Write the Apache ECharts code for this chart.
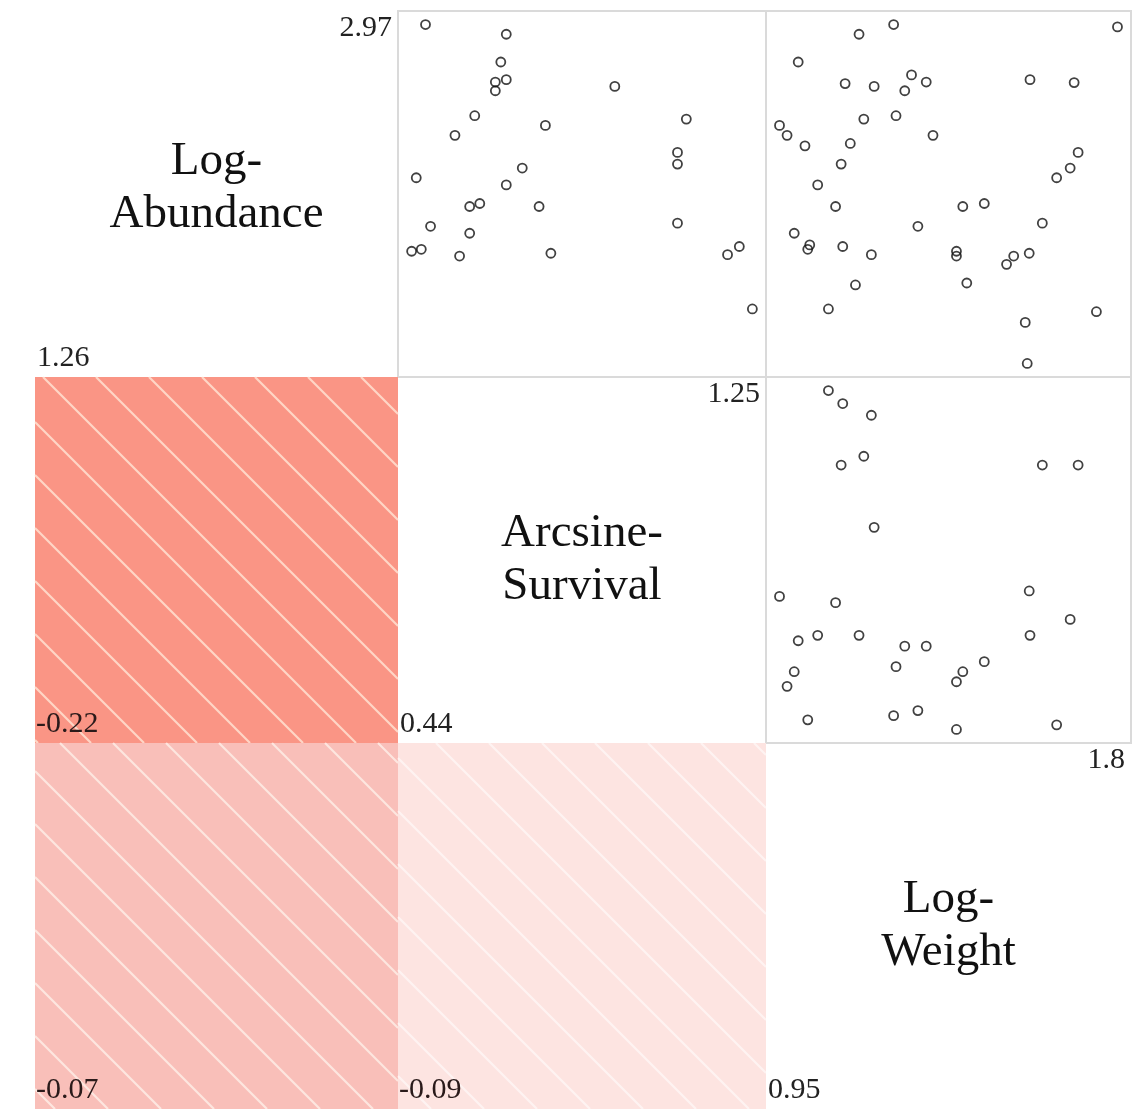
<!DOCTYPE html>
<html>
<head>
<meta charset="utf-8">
<script src="https://cdn.jsdelivr.net/npm/echarts@6/dist/echarts.min.js"></script>
<style>
html,body{margin:0;padding:0;background:#ffffff;}
#chart{width:1141px;height:1109px;}
</style>
</head>
<body>
<div id="chart"></div>
<script>
// ---------------- DATA ----------------
const varNames = ['Log-Abundance', 'Arcsine-Survival', 'Log-Weight'];

// one entry per observation (null = missing)
const logAbundance = [
  1.535, 1.850, 1.809, 2.493, 2.266, 1.968, 2.325, 2.658, 2.461, 2.052,
  1.816, 2.246, 2.781, 2.161, 2.921, 2.692, 2.636, 2.680, 2.510, 2.067,
  1.917, 2.052, 1.802, 2.411, 1.836, 2.970, 1.952, 1.826, 2.197,
  2.958, 2.672, 2.716, 2.677, 2.358, 2.370, 2.411, 1.858, 1.802, 1.760,
  1.656, 1.666, 1.521, 1.467, 1.260
];
const arcsineSurvival = [
  1.250, 1.219, 1.191, 1.093, 1.072, 1.072, 1.072, 0.923, 0.758, 0.743,
  0.771, 0.703, 0.652, 0.665, 0.665, 0.665, 0.639, 0.639, 0.590, 0.602,
  0.578, 0.578, 0.554, 0.543, 0.463, 0.473, 0.485, 0.440, 0.451,
  null, null, null, null, null, null, null, null, null, null,
  null, null, null, null, null
];
const logWeight = [
  1.073, 1.109, 1.181, 1.162, 1.105, 1.611, 1.701, 1.188, 0.950, 1.091,
  1.578, 1.681, 0.997, 1.046, 1.150, 1.580, 1.265, 1.319, 1.243, 1.465,
  0.987, 1.411, 1.395, 0.969, 1.021, 1.237, 1.298, 1.395, 1.647,
  1.800, 1.115, 1.282, 1.691, 1.014, 1.128, 1.336, 1.026, 1.539, 1.521,
  1.141, 1.421, 1.747, 1.568, 1.573
];

// lower-panel correlations
const corrRows = [1, 2, 2];
const corrCols = [0, 0, 1];
const corrValues = [-0.22, -0.07, -0.09];

// ---------------- STYLE / LAYOUT ----------------
const shadeColors = ['#fa9585', '#f9bfb9', '#fde4e1'];
const hatchColors = ['rgba(255,236,220,0.75)', 'rgba(255,246,240,0.7)', 'rgba(255,255,255,0.55)'];
const hatchPhase = [8, 25, 38];
const hatchSpacing = 53;
const xs = [35, 398, 766, 1131];
const ys = [11, 377, 743, 1109];
const nameOffsetY = [-6, 0, 0];
const serif = '"Liberation Serif", "Times New Roman", serif';

const vars = [logAbundance, arcsineSurvival, logWeight];
const fmt = v => String(Math.round(v * 100) / 100);
const vmin = vars.map(a => Math.min(...a.filter(v => v !== null)));
const vmax = vars.map(a => Math.max(...a.filter(v => v !== null)));

const grids = [], xAxes = [], yAxes = [], series = [];
function addGrid(r, c, border) {
  grids.push({
    left: xs[c], top: ys[r], width: xs[c + 1] - xs[c], height: ys[r + 1] - ys[r],
    show: border, borderColor: '#dadada', borderWidth: 2, backgroundColor: 'transparent'
  });
  return grids.length - 1;
}
const hiddenAxis = { show: false, splitLine: { show: false }, axisLine: { show: false }, axisTick: { show: false }, axisLabel: { show: false } };

// upper: scatter plots
for (let r = 0; r < 3; r++) {
  for (let c = r + 1; c < 3; c++) {
    const gi = addGrid(r, c, true);
    const xr = vmax[c] - vmin[c], yr = vmax[r] - vmin[r];
    xAxes.push(Object.assign({ type: 'value', gridIndex: gi, min: vmin[c] - 0.04 * xr, max: vmax[c] + 0.04 * xr }, hiddenAxis));
    yAxes.push(Object.assign({ type: 'value', gridIndex: gi, min: vmin[r] - 0.04 * yr, max: vmax[r] + 0.04 * yr }, hiddenAxis));
    const pts = [];
    for (let i = 0; i < vars[c].length; i++) {
      if (vars[c][i] !== null && vars[r][i] !== null) pts.push([vars[c][i], vars[r][i]]);
    }
    series.push({
      type: 'scatter', xAxisIndex: gi, yAxisIndex: gi, data: pts,
      symbol: 'circle', symbolSize: 9, silent: true,
      itemStyle: { color: 'rgba(255,255,255,0)', borderColor: '#111111', borderWidth: 1.8 }
    });
  }
}

// lower: shaded correlation panels
corrValues.forEach((rv, k) => {
  const gi = addGrid(corrRows[k], corrCols[k], false);
  xAxes.push(Object.assign({ type: 'value', gridIndex: gi, min: 0, max: 1 }, hiddenAxis));
  yAxes.push(Object.assign({ type: 'value', gridIndex: gi, min: 0, max: 1 }, hiddenAxis));
  series.push({
    type: 'custom', xAxisIndex: gi, yAxisIndex: gi, silent: true,
    data: [[0, 0, rv]],
    renderItem: (params, api) => {
      const p0 = api.coord([0, 1]);
      const p1 = api.coord([1, 0]);
      const x0 = p0[0], y0 = p0[1], w = p1[0] - p0[0], h = p1[1] - p0[1];
      const r = api.value(2);
      const children = [{
        type: 'rect', shape: { x: x0, y: y0, width: w, height: h },
        style: { fill: shadeColors[k] }
      }];
      const ph = hatchPhase[k];
      for (let cc = ph - hatchSpacing * 20; cc < w + h; cc += hatchSpacing) {
        let a, b;
        if (r < 0) {
          if (cc <= -h || cc >= w) continue;
          const su = Math.max(0, cc), sv = su - cc;
          const eu = Math.min(w, h + cc), ev = eu - cc;
          a = [x0 + su, y0 + sv]; b = [x0 + eu, y0 + ev];
        } else {
          if (cc <= 0 || cc >= w + h) continue;
          const su = Math.max(0, cc - h), sv = cc - su;
          const eu = Math.min(w, cc), ev = cc - eu;
          a = [x0 + su, y0 + sv]; b = [x0 + eu, y0 + ev];
        }
        children.push({
          type: 'line', shape: { x1: a[0], y1: a[1], x2: b[0], y2: b[1] },
          style: { stroke: hatchColors[k], lineWidth: 2.2 }
        });
      }
      children.push({
        type: 'text',
        style: {
          text: r.toFixed(2), x: x0 + 1, y: y0 + h - 4,
          align: 'left', verticalAlign: 'bottom',
          font: '30px ' + serif, fill: '#2a1a1a'
        }
      });
      return { type: 'group', children: children };
    }
  });
});

// diagonal: names + min / max
const graphics = [];
for (let i = 0; i < 3; i++) {
  const cx = (xs[i] + xs[i + 1]) / 2, cy = (ys[i] + ys[i + 1]) / 2 + nameOffsetY[i];
  graphics.push({
    type: 'text', x: cx, y: cy, silent: true,
    style: {
      text: varNames[i].replace('-', '-\n'), align: 'center', verticalAlign: 'middle',
      font: '47px ' + serif, lineHeight: 53, fill: '#111111'
    }
  });
  graphics.push({
    type: 'text', x: xs[i] + 2, y: ys[i + 1] - 4, silent: true,
    style: { text: fmt(vmin[i]), align: 'left', verticalAlign: 'bottom', font: '30px ' + serif, fill: '#222222' }
  });
  graphics.push({
    type: 'text', x: xs[i + 1] - 6, y: ys[i] + 2, silent: true,
    style: { text: fmt(vmax[i]), align: 'right', verticalAlign: 'top', font: '30px ' + serif, fill: '#222222' }
  });
}

const chart = echarts.init(document.getElementById('chart'), null, { renderer: 'canvas' });
chart.setOption({
  animation: false,
  backgroundColor: '#ffffff',
  grid: grids,
  xAxis: xAxes,
  yAxis: yAxes,
  series: series,
  graphic: { elements: graphics }
});
</script>
</body>
</html>
